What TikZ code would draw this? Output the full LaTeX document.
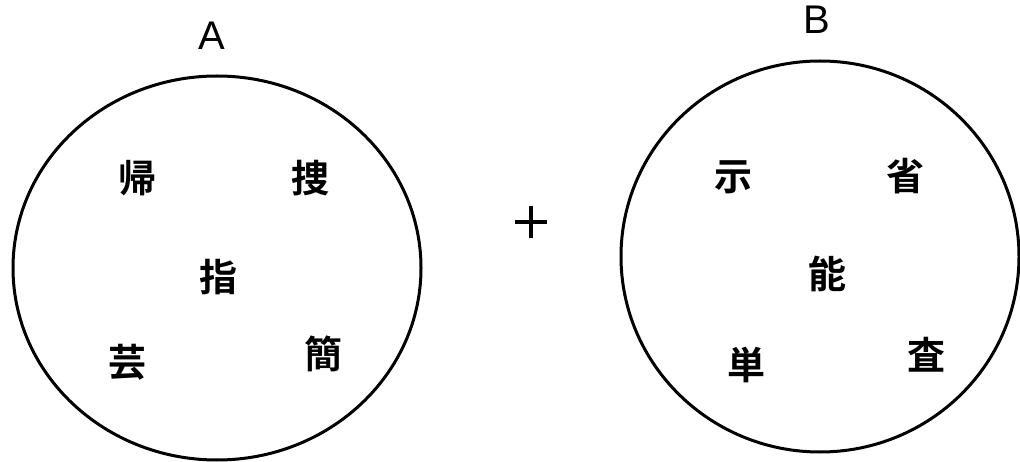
\documentclass[tikz,border=0pt]{standalone}
\usepackage{fontspec}
\setmainfont{Liberation Sans}
\newfontfamily\cjk{Noto Sans CJK JP}[BoldFont={Noto Sans CJK JP Bold}]
\begin{document}
\begin{tikzpicture}[x=1pt,y=-1pt,
  ring/.style={draw=black,line width=3pt},
  kanji/.style={font=\cjk\bfseries\fontsize{38}{38}\selectfont,inner sep=0pt,anchor=center},
  setlabel/.style={font=\fontsize{40}{40}\selectfont,inner sep=0pt,anchor=center}]
\useasboundingbox[fill=white] (0,0) rectangle (1020,462);
\draw[ring] (217,268) ellipse [x radius=204, y radius=192];
\draw[ring] (820,256.5) ellipse [x radius=199, y radius=195.5];
\node[setlabel] (labA) at (212,36) {A};
\node[setlabel] (labB) at (817,20) {B};
\node[kanji] (a1) at (137,178) {帰};
\node[kanji] (a2) at (310,178) {捜};
\node[kanji] (a3) at (218,277) {指};
\node[kanji] (a4) at (127,362) {芸};
\node[kanji] (a5) at (323,354) {簡};
\node[kanji] (b1) at (733,177) {示};
\node[kanji] (b2) at (905,176) {省};
\node[kanji] (b3) at (827,274) {能};
\node[kanji] (b4) at (746,365) {単};
\node[kanji] (b5) at (926,355) {査};
\node[inner sep=0pt] (plus) at (531,222) {};
\draw[line width=4pt] (515,222) -- (547,222);
\draw[line width=4pt] (531,206) -- (531,238);
\end{tikzpicture}
\end{document}
